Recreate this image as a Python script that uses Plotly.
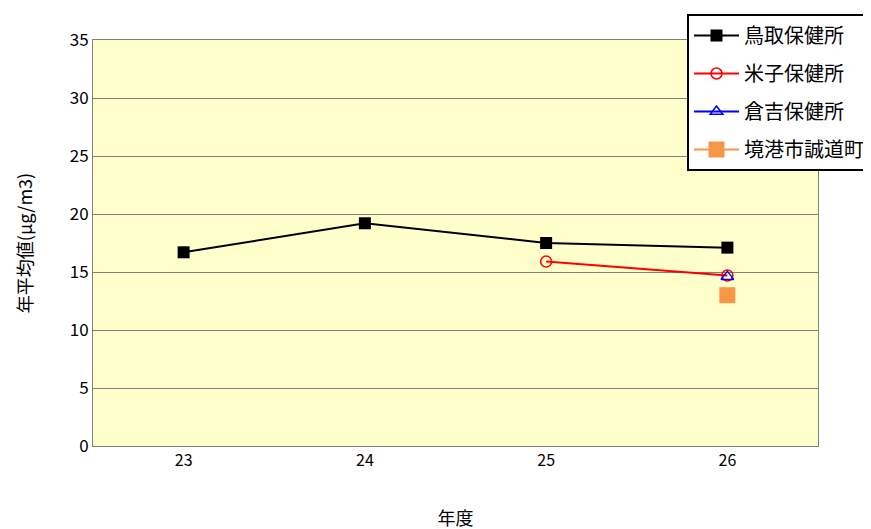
import plotly.graph_objects as go

years = ["23", "24", "25", "26"]
tottori = [16.7, 19.2, 17.5, 17.1]
yonago = [None, None, 15.9, 14.7]
kurayoshi = [None, None, None, 14.6]
sakaiminato = [None, None, None, 13.0]

W, H = 871, 529
OFF = 8  # page body margin

fig = go.Figure()
fig.add_trace(go.Scatter(x=years, y=tottori, name="鳥取保健所", mode="lines+markers",
                         legendgroup="a",
                         line=dict(color="black", width=2),
                         marker=dict(symbol="square", size=12, color="black")))
fig.add_trace(go.Scatter(x=years, y=yonago, name="米子保健所", mode="lines+markers",
                         legendgroup="b",
                         line=dict(color="red", width=2),
                         marker=dict(symbol="circle-open", size=11, color="red", line=dict(width=1.5))))
fig.add_trace(go.Scatter(x=years, y=kurayoshi, name="倉吉保健所", mode="lines+markers",
                         legendgroup="c",
                         line=dict(color="blue", width=2),
                         marker=dict(symbol="triangle-up-open", size=11, color="blue", line=dict(width=1.5))))
fig.add_trace(go.Scatter(x=years, y=sakaiminato, name="境港市誠道町", mode="lines+markers",
                         legendgroup="d",
                         line=dict(color="#F79646", width=2),
                         marker=dict(symbol="square", size=16, color="#F79646")))

fig.update_layout(
    width=W, height=H,
    margin=dict(l=0, r=0, t=0, b=0, autoexpand=False),
    paper_bgcolor="white", plot_bgcolor="#FFFFCC",
    font=dict(family="Noto Sans CJK JP", size=16, color="black"),
    legend=dict(x=(W - OFF) / W, y=1 - (14 - OFF) / H, xanchor="right", yanchor="top",
                bordercolor="black", borderwidth=2, bgcolor="white",
                font=dict(size=20), itemwidth=45, tracegroupgap=9),
)
fig.update_xaxes(domain=[(93 - OFF) / W, (818 - OFF) / W], range=[-0.5, 3.5], automargin=False,
                 title=dict(text="年度", standoff=42, font=dict(size=18)),
                 showline=True, linecolor="#808080", mirror=True, ticks="", showgrid=False,
                 tickfont=dict(size=16))
fig.update_yaxes(domain=[1 - (446 - OFF) / H, 1 - (40 - OFF) / H], range=[0, 35], dtick=5,
                 automargin=False,
                 title=dict(text="年平均値(μg/m3)", standoff=32, font=dict(size=18)),
                 showline=True, linecolor="#808080", mirror=True,
                 gridcolor="#7f7f7f", gridwidth=1, zeroline=False, tickfont=dict(size=17))

fig.write_html("out.html")
